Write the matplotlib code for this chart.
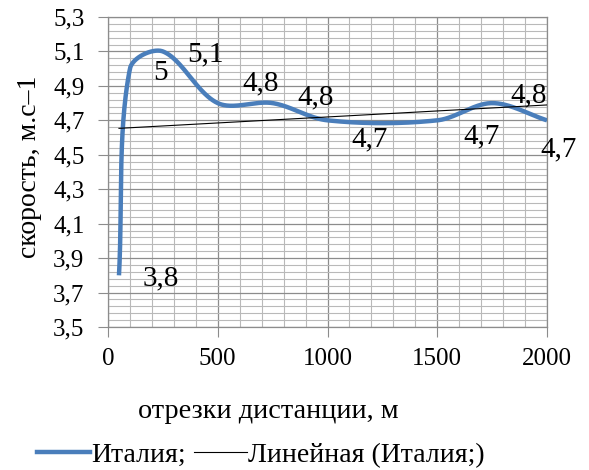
import matplotlib
matplotlib.use("Agg")
import matplotlib.pyplot as plt
from matplotlib.ticker import FixedLocator, MultipleLocator, FuncFormatter
from matplotlib.lines import Line2D
import numpy as np

# отрезки дистанции (м) и скорость (м/с)
distance = [50, 100, 250, 500, 750, 1000, 1500, 1750, 2000]
speed = [3.8, 5.0, 5.1, 4.8, 4.8, 4.7, 4.7, 4.8, 4.7]
labels = ["3,8", "5", "5,1", "4,8", "4,8", "4,7", "4,7", "4,8", "4,7"]

# label offsets, pixels (dx, dy)
label_offsets = [(24, -3), (23, -4), (24, -3), (25, 20), (25, 6),
                 (24, -19), (26, -16), (18, 8), (-7, -29)]

LINE_BLUE = "#4a7ebb"
GRID_MAJOR = "#8c8c8c"
GRID_MINOR = "#b9b9b9"

plt.rcParams["font.family"] = ["Liberation Serif", "DejaVu Serif"]

W, H = 589, 470
fig = plt.figure(figsize=(W / 100, H / 100), dpi=100)
ax = fig.add_axes([108 / W, 1 - 327 / H, (547 - 108) / W, (327 - 17) / H])

ax.set_xlim(0, 2000)
ax.set_ylim(3.5, 5.3)
ax.xaxis.set_major_locator(MultipleLocator(500))
ax.xaxis.set_minor_locator(MultipleLocator(100))
ax.yaxis.set_major_locator(FixedLocator(np.round(np.arange(3.5, 5.31, 0.2), 2)))
ax.yaxis.set_minor_locator(FixedLocator(np.round(np.arange(3.5, 5.31, 0.04), 2)))
ax.yaxis.set_major_formatter(FuncFormatter(lambda v, p: f"{v:.1f}".replace(".", ",")))
ax.grid(True, which="major", color=GRID_MAJOR, lw=0.9)
ax.grid(True, which="minor", color=GRID_MINOR, lw=0.8)
ax.set_axisbelow(True)
ax.tick_params(which="major", length=7, color=GRID_MAJOR, labelsize=18)
ax.tick_params(axis="x", pad=8)
ax.tick_params(axis="y", pad=10)
ax.tick_params(which="minor", length=0)
for s in ax.spines.values():
    s.set_color(GRID_MAJOR)
    s.set_linewidth(0.9)


def smooth(xs, ys, n=50):
    # bezier spline, handles along (next - prev) scaled by the segment lengths
    P = ax.transData.transform(np.column_stack([xs, ys]))
    P = np.vstack([P[0], P, P[-1]])
    dist = lambda a, b: np.hypot(*(b - a))
    t = np.linspace(0, 1, n)[:, None]
    out = []
    for i in range(1, len(P) - 2):
        p0, p1, p2, p3 = P[i - 1], P[i], P[i + 1], P[i + 2]
        d01, d12, d23 = dist(p0, p1), dist(p1, p2), dist(p2, p3)
        c1 = p1 + (p2 - p0) * d12 / (d01 + d12) / 3
        c2 = p2 - (p3 - p1) * d12 / (d12 + d23) / 3
        seg = ((1 - t) ** 3) * p1 + 3 * ((1 - t) ** 2) * t * c1 \
            + 3 * (1 - t) * t ** 2 * c2 + t ** 3 * p2
        out.append(seg if i == 1 else seg[1:])
    curve = ax.transData.inverted().transform(np.vstack(out))
    return curve[:, 0], curve[:, 1]


sx, sy = smooth(distance, speed)
ax.plot(sx, sy, color=LINE_BLUE, lw=3.2, solid_capstyle="butt", zorder=3)

# линейный тренд
k, b = np.polyfit(distance, speed, 1)
tx = np.array([distance[0], distance[-1]])
ax.plot(tx, k * tx + b, color="black", lw=0.8, zorder=4)

for x, y, lab, (dx, dy) in zip(distance, speed, labels, label_offsets):
    ax.annotate(lab, (x, y), xytext=(dx, dy), textcoords="offset pixels",
                ha="left", va="center", fontsize=21, zorder=5,
                annotation_clip=False)

fig.text(30 / W, 1 - 167 / H, "скорость, м.с–1", rotation=90,
         ha="center", va="center", fontsize=20)
fig.text(268 / W, 1 - 412 / H, "отрезки дистанции, м",
         ha="center", va="center", fontsize=20.3)

handles = [Line2D([], [], color=LINE_BLUE, lw=3.2),
           Line2D([], [], color="black", lw=0.8)]
fig.legend(handles, ["Италия;", "Линейная (Италия;)"], loc="center",
           bbox_to_anchor=(261 / W, 1 - 455 / H), ncol=2, frameon=False,
           fontsize=20, handlelength=1.9, handletextpad=0.05,
           columnspacing=0.3, borderpad=0)

fig.savefig("out.png", dpi=100)
